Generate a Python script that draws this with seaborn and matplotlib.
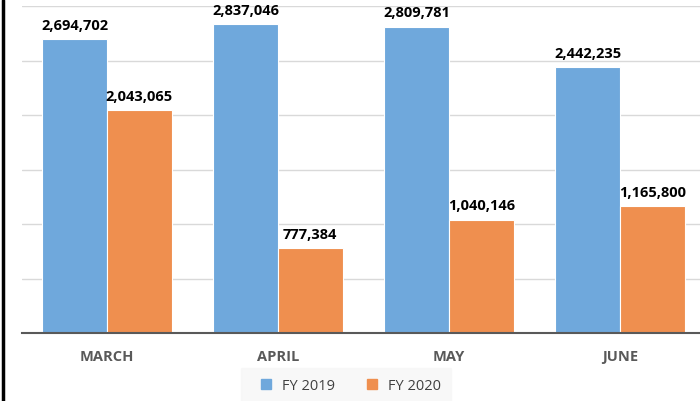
import numpy as np
import pandas as pd
import matplotlib
matplotlib.use("Agg")
import matplotlib.pyplot as plt
import seaborn as sns
from matplotlib.lines import Line2D

months = ["MARCH", "APRIL", "MAY", "JUNE"]
fy2019 = [2694702, 2837046, 2809781, 2442235]
fy2020 = [2043065, 777384, 1040146, 1165800]
series = ["FY 2019", "FY 2020"]
BLUE, ORANGE = "#6FA8DC", "#EF8F4F"

df = pd.DataFrame({
    "month": months * 2,
    "value": fy2019 + fy2020,
    "fy": [series[0]] * 4 + [series[1]] * 4,
})

sns.set_style("white")
plt.rcParams["font.family"] = ["Open Sans", "DejaVu Sans"]

fig = plt.figure(figsize=(7, 4.01), dpi=100)
ax = fig.add_axes([21.5 / 700, 68 / 401, 684 / 700, 327 / 401])

sns.barplot(data=df, x="month", y="value", hue="fy", order=months,
            hue_order=series, palette=[BLUE, ORANGE], width=0.755,
            saturation=1, edgecolor="white", linewidth=0.8, ax=ax, legend=False)

ax.set_ylim(0, 3000000)
ax.set_xlim(-0.5, 3.5)
ax.set_yticks(np.arange(500000, 3000001, 500000))
ax.yaxis.grid(True, color="#d9d9d9", linewidth=1)
ax.set_axisbelow(True)
ax.set_yticklabels([])
ax.tick_params(axis="y", length=0)
ax.tick_params(axis="x", length=0, pad=12)
for lbl in ax.get_xticklabels():
    lbl.set_fontsize(10.5)
    lbl.set_fontweight("bold")
    lbl.set_color("#595959")
ax.set_xlabel("")
ax.set_ylabel("")
for s in ["top", "right", "left"]:
    ax.spines[s].set_visible(False)
ax.spines["bottom"].set_color("#595959")
ax.spines["bottom"].set_linewidth(1.5)

for cont in ax.containers:
    ax.bar_label(cont, labels=[f"{v:,.0f}" for v in cont.datavalues],
                 padding=4.5, fontsize=10.5, fontweight="bold", color="black")

handles = [Line2D([], [], marker="s", linestyle="", markersize=7, color=c) for c in [BLUE, ORANGE]]
leg = fig.legend(handles, series, loc="center", bbox_to_anchor=(346 / 700, 1 - 386 / 401),
                 ncol=2, frameon=True, fontsize=10.5, handletextpad=0.1, columnspacing=1.5,
                 borderpad=0.4)
leg.get_frame().set_facecolor("#f7f7f7")
leg.get_frame().set_edgecolor("#f7f7f7")
leg.get_frame().set_boxstyle("square")
for t in leg.get_texts():
    t.set_color("#404040")

fig.add_artist(Line2D([3 / 700, 3 / 700], [0, 1], color="black", linewidth=2.5,
                      transform=fig.transFigure))

fig.savefig("out.png", dpi=100)
